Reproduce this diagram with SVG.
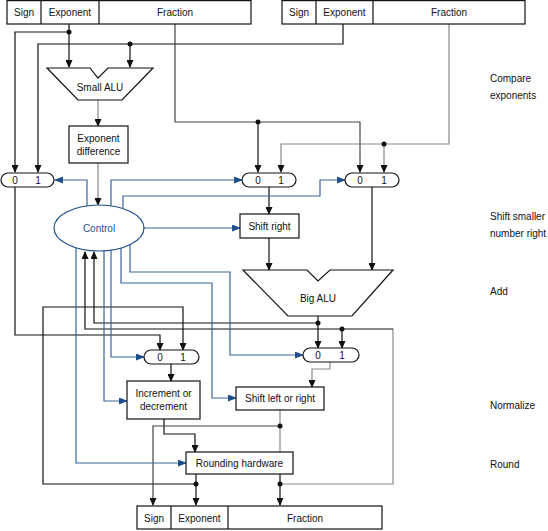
<svg xmlns="http://www.w3.org/2000/svg" width="548" height="531" viewBox="0 0 548 531">
<style>
text{font-family:"Liberation Sans",Arial,sans-serif;font-size:10px;fill:#111;text-anchor:middle}
.box{fill:#fff;stroke:#111;stroke-width:1.2}
.k{fill:none;stroke:#111;stroke-width:1.2}
.g{fill:none;stroke:#888;stroke-width:1.2}
.dg{fill:none;stroke:#444;stroke-width:1.2}
.b{fill:none;stroke:#3a649e;stroke-width:1.2}
.dot{fill:#111}
.side{text-anchor:start}
</style>
<defs>
<marker id="ak" markerUnits="userSpaceOnUse" markerWidth="8" markerHeight="7" refX="7" refY="3.5" orient="auto"><path d="M0,0 L8,3.5 L0,7 z" fill="#111"/></marker>
<marker id="ab" markerUnits="userSpaceOnUse" markerWidth="9" markerHeight="7" refX="8" refY="3.5" orient="auto"><path d="M0,0 L9,3.5 L0,7 z" fill="#1f4e8c"/></marker>
</defs>
<rect width="548" height="531" fill="#fff"/>

<g id="connectors">
<path class="k" d="M69,24 V67" marker-end="url(#ak)"/>
<path class="k" d="M69,32 H15 V172" marker-end="url(#ak)"/>
<path class="k" d="M343,24 V44 H38 V172" marker-end="url(#ak)"/>
<path class="k" d="M130,44 V67" marker-end="url(#ak)"/>
<path class="dg" d="M175,24 V122 H360 V172" marker-end="url(#ak)"/>
<path class="k" d="M258,122 V172" marker-end="url(#ak)"/>
<path class="g" d="M449,24 V144 H281 V172" marker-end="url(#ak)"/>
<path class="g" d="M384,144 V172" marker-end="url(#ak)"/>
<path class="g" d="M98,100 V126" marker-end="url(#ak)"/>
<path class="g" d="M98,163 V205" marker-end="url(#ak)"/>
<path class="k" d="M269,186 V214" marker-end="url(#ak)"/>
<path class="k" d="M269,238 V270" marker-end="url(#ak)"/>
<path class="k" d="M372,186 V270" marker-end="url(#ak)"/>
<path class="k" d="M318,316 V348" marker-end="url(#ak)"/>
<path class="k" d="M318,323 H94 V252" marker-end="url(#ak)"/>
<path class="g" d="M280,484 H393 V329"/>
<path class="k" d="M393,329 H85 V252" marker-end="url(#ak)"/>
<path class="k" d="M342,329 V348" marker-end="url(#ak)"/>
<path class="k" d="M15,187 V335 H160 V350" marker-end="url(#ak)"/>
<path class="k" d="M196,484 H43 V307 H183 V350" marker-end="url(#ak)"/>
<path class="k" d="M171,364 V381" marker-end="url(#ak)"/>
<path class="k" d="M164,419 V434 H195 V452" marker-end="url(#ak)"/>
<path class="g" d="M330,362 V369 H312 V387" marker-end="url(#ak)"/>
<path class="g" d="M280,410 V452"/>
<path class="dg" d="M280,426 H153 V505" marker-end="url(#ak)"/>
<path class="k" d="M196,474 V505" marker-end="url(#ak)"/>
<path class="k" d="M280,474 V505" marker-end="url(#ak)"/>

<path class="b" d="M87,206 V180 H55" marker-end="url(#ab)"/>
<path class="b" d="M111,206 V180 H242" marker-end="url(#ab)"/>
<path class="b" d="M123,208 V196 H320 V180 H345" marker-end="url(#ab)"/>
<path class="b" d="M144,228 H240" marker-end="url(#ab)"/>
<path class="b" d="M130,245 V272 H230 V355 H303" marker-end="url(#ab)"/>
<path class="b" d="M121,248 V283 H212 V398 H236" marker-end="url(#ab)"/>
<path class="b" d="M111,250 V357 H144" marker-end="url(#ab)"/>
<path class="b" d="M104,251 V401 H127" marker-end="url(#ab)"/>
<path class="b" d="M76,248 V463 H186" marker-end="url(#ab)"/>

<circle class="dot" cx="69" cy="32" r="2.5"/>
<circle class="dot" cx="130" cy="44" r="2.5"/>
<circle class="dot" cx="258" cy="122" r="2.5"/>
<circle class="dot" cx="384" cy="144" r="2.5"/>
<circle class="dot" cx="318" cy="323" r="2.5"/>
<circle class="dot" cx="342" cy="329" r="2.5"/>
<circle class="dot" cx="280" cy="426" r="2.5"/>
<circle class="dot" cx="196" cy="484" r="2.5"/>
<circle class="dot" cx="280" cy="484" r="2.5"/>
</g>

<g id="reg-a">
<rect class="box" x="7" y="0.6" width="244" height="23.4"/>
<path class="k" d="M41,0.6 V24 M99,0.6 V24"/>
<text x="24" y="16">Sign</text><text x="70" y="16">Exponent</text><text x="175" y="16">Fraction</text>
</g>
<g id="reg-b">
<rect class="box" x="282" y="0.6" width="243" height="23.4"/>
<path class="k" d="M316,0.6 V24 M373,0.6 V24"/>
<text x="299" y="16">Sign</text><text x="344.5" y="16">Exponent</text><text x="449" y="16">Fraction</text>
</g>
<g id="reg-out">
<rect class="box" x="137" y="506" width="245" height="23"/>
<path class="k" d="M171,506 V529 M228,506 V529"/>
<text x="154" y="522">Sign</text><text x="199.5" y="522">Exponent</text><text x="305" y="522">Fraction</text>
</g>

<g id="small-alu">
<polygon class="box" points="47,68 90,68 98,78 108,68 153,68 122,100 78,100"/>
<text x="100" y="91">Small ALU</text>
</g>
<g id="exp-diff">
<rect class="box" x="69" y="126" width="59" height="37"/>
<text x="98.5" y="142">Exponent</text><text x="98.5" y="155">difference</text>
</g>
<g id="mux1">
<rect class="box" x="1" y="173" width="53" height="14" rx="7"/>
<text x="15" y="184">0</text><text x="38" y="184">1</text>
</g>
<g id="mux2">
<rect class="box" x="242" y="173" width="54" height="14" rx="7"/>
<text x="258" y="184">0</text><text x="281" y="184">1</text>
</g>
<g id="mux3">
<rect class="box" x="345" y="173" width="54" height="14" rx="7"/>
<text x="360" y="184">0</text><text x="384" y="184">1</text>
</g>
<g id="control">
<ellipse cx="99" cy="228" rx="45" ry="23" fill="#fff" stroke="#1f4e8c" stroke-width="1.2"/>
<text x="99" y="232" style="fill:#1f4e8c">Control</text>
</g>
<g id="shift-right">
<rect class="box" x="240" y="214" width="59" height="24"/>
<text x="269.5" y="230">Shift right</text>
</g>
<g id="big-alu">
<polygon class="box" points="243,270 307,270 318,281 330,270 393,270 352,316 288,316"/>
<text x="318" y="302">Big ALU</text>
</g>
<g id="mux-inc">
<rect class="box" x="144" y="350" width="55" height="14" rx="7"/>
<text x="160" y="361">0</text><text x="183" y="361">1</text>
</g>
<g id="mux4">
<rect class="box" x="303" y="348" width="56" height="14" rx="7"/>
<text x="318" y="359">0</text><text x="342" y="359">1</text>
</g>
<g id="inc-dec">
<rect class="box" x="127" y="381" width="73" height="38"/>
<text x="163.5" y="397">Increment or</text><text x="163.5" y="410">decrement</text>
</g>
<g id="shift-lr">
<rect class="box" x="236" y="387" width="88" height="23"/>
<text x="280" y="402">Shift left or right</text>
</g>
<g id="rounding">
<rect class="box" x="186" y="452" width="107" height="22"/>
<text x="239.5" y="467">Rounding hardware</text>
</g>

<g id="stages">
<text class="side" x="490" y="82">Compare</text>
<text class="side" x="490" y="99">exponents</text>
<text class="side" x="490" y="220">Shift smaller</text>
<text class="side" x="490" y="237">number right</text>
<text class="side" x="490" y="295">Add</text>
<text class="side" x="490" y="409">Normalize</text>
<text class="side" x="490" y="468">Round</text>
</g>
</svg>
